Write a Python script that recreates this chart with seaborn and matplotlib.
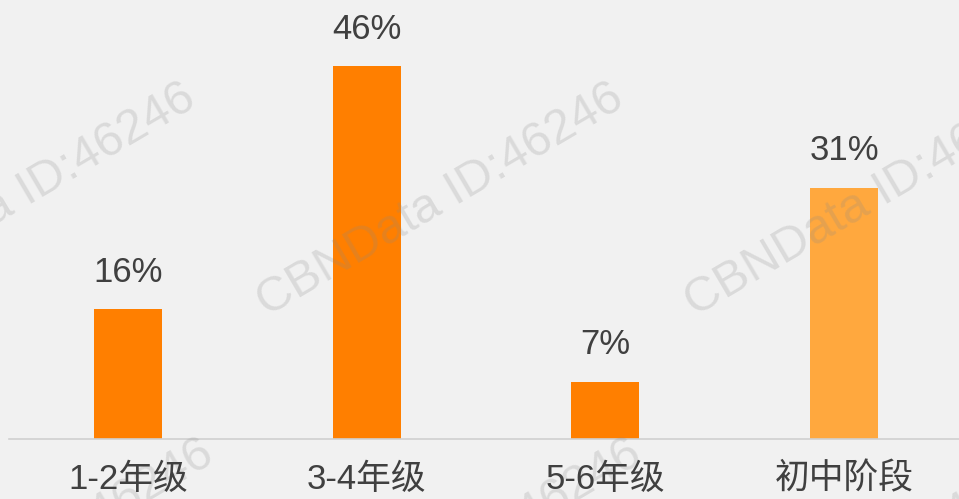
import seaborn as sns
import pandas as pd
import matplotlib.pyplot as plt

categories = ['1-2年级', '3-4年级', '5-6年级', '初中阶段']
shares = [16, 46, 7, 31]
labels = ['16%', '46%', '7%', '31%']
bar_colors = ['#FF7F00', '#FF7F00', '#FF7F00', '#FFA83E']

df = pd.DataFrame({'grade': categories, 'share': shares})

sns.set_theme(style='white')
plt.rcParams['font.family'] = ['Liberation Sans', 'Noto Sans CJK SC', 'DejaVu Sans']

bg = '#f1f1f1'
fig = plt.figure(figsize=(9.59, 4.99), dpi=100, facecolor=bg)
ax = fig.add_axes([8.6 / 959, 60 / 499, 954.8 / 959, 439 / 499])
ax.set_facecolor('none')

sns.barplot(data=df, x='grade', y='share', hue='grade', palette=bar_colors,
            legend=False, width=0.285, saturation=1, linewidth=0, ax=ax, zorder=3)

# watermarks (above the bars, faint)
wm_pos = [(12, 200), (440, 200), (868, 200), (30, 556), (458, 556), (886, 556)]
for x, y in wm_pos:
    ax.text(x / 959, 1 - y / 499, 'CBNData ID:46246', fontsize=35, color='#8a8a8a',
            alpha=0.22, rotation=30.5, ha='center', va='center',
            rotation_mode='anchor', transform=fig.transFigure, clip_on=False,
            zorder=5)

for i, (v, lab) in enumerate(zip(shares, labels)):
    ax.annotate(lab, (i, v), xytext=(0, 15), textcoords='offset points',
                ha='center', va='bottom', fontsize=25, color='#404040', zorder=6)

ax.set_xlim(-0.5, 3.5)
ax.set_ylim(0, 54.2)
ax.set_xlabel('')
ax.set_ylabel('')
ax.set_yticks([])
ax.tick_params(axis='x', length=0, pad=17, labelsize=25, labelcolor='#404040')
ax.xaxis.set_zorder(6)
for s in ['top', 'right', 'left']:
    ax.spines[s].set_visible(False)
ax.spines['bottom'].set_color('#d0d0d0')
ax.spines['bottom'].set_linewidth(1.2)
ax.spines['bottom'].set_zorder(4)

plt.savefig('out.png', dpi=100, facecolor=bg)
